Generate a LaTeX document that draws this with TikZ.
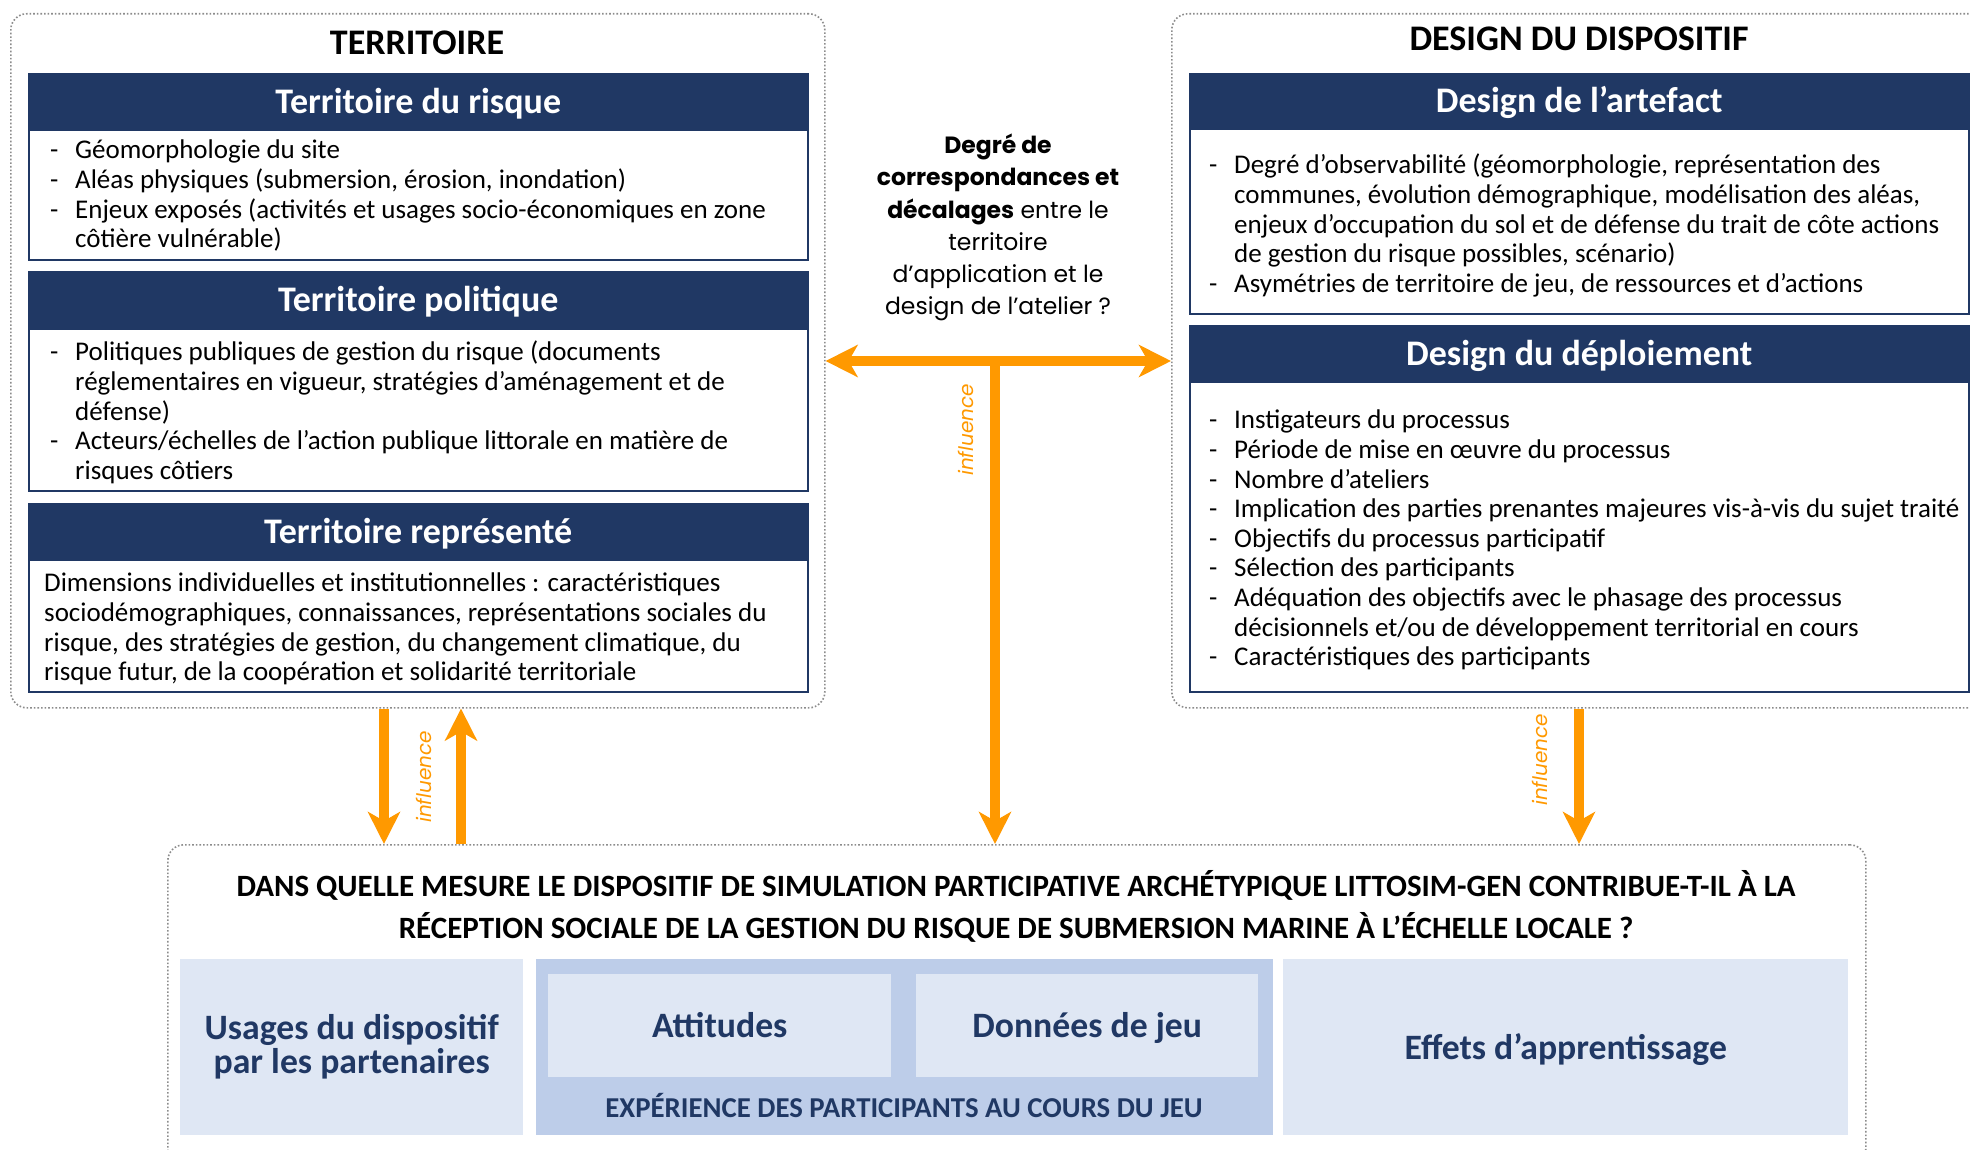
\documentclass[tikz,border=0pt]{standalone}
\usepackage{fontspec}
\setmainfont{Carlito}
\newfontfamily\gothic{Poppins}
\usetikzlibrary{arrows.meta,calc}
\definecolor{navy}{HTML}{203864}
\definecolor{lightb}{HTML}{DFE7F4}
\definecolor{midb}{HTML}{BDCDE9}
\definecolor{orng}{HTML}{FF9900}
\definecolor{dotgray}{HTML}{8C8C8C}
\newcommand\lidash{\makebox[25pt][l]{-}}
\newcommand\liind{\hspace*{25pt}}
\tikzset{
  outerbox/.style={draw=dotgray, dotted, line width=1.6pt, rounded corners=16pt, inner sep=0pt, anchor=north west},
  headbox/.style={draw=navy, fill=navy, line width=1.5pt, inner sep=0pt, anchor=north west, text=white,
    font=\fontsize{36}{40}\selectfont\bfseries, text height=25pt, text depth=2pt},
  bodybox/.style={draw=navy, fill=white, line width=2pt, inner sep=0pt, anchor=north west},
  listtext/.style={anchor=north west, inner sep=0pt, align=left, font=\fontsize{27}{29.6}\selectfont},
  titletext/.style={inner sep=0pt, font=\fontsize{36}{40}\selectfont\bfseries, text height=24pt, text depth=7pt},
  midtext/.style={anchor=north, inner sep=0pt, align=center, font=\gothic\fontsize{23.5}{32.2}\selectfont},
  questext/.style={anchor=north, inner sep=0pt, align=center, font=\fontsize{31}{42}\selectfont\bfseries},
  lightbox/.style={fill=lightb, draw=none, inner sep=0pt, anchor=north west},
  midbox/.style={fill=midb, draw=none, inner sep=0pt, anchor=north west},
  boxlabel/.style={inner sep=0pt, text=navy, align=center, font=\fontsize{35.7}{34}\selectfont\bfseries},
  explabel/.style={inner sep=0pt, text=navy, font=\fontsize{28.8}{32}\selectfont\bfseries, text height=20pt, text depth=6pt},
  oarrow/.style={draw=orng, line width=10pt},
  otip/.tip={Stealth[length=32pt, width=32pt, inset=9pt]},
  inflabel/.style={inner sep=0pt, text=orng, font=\gothic\itshape\fontsize{20}{24}\selectfont, rotate=90}
}
\begin{document}
\begin{tikzpicture}[x=1pt,y=-1pt]
\useasboundingbox (0,0) rectangle (1970,1150);
\fill[white] (0,0) rectangle (1970,1150);

% outer dotted frames
\node[outerbox, minimum width=814pt, minimum height=694pt] (terr) at (10,13) {};
\node[outerbox, minimum width=820pt, minimum height=694pt] (design) at (1171,13) {};
\node[outerbox, minimum width=1698pt, minimum height=320pt] (bot) at (167,844) {};

% titles
\node[titletext] (terrT) at (417,46) {TERRITOIRE};
\node[titletext] (desT) at (1579,42) {DESIGN DU DISPOSITIF};

% Territoire du risque
\node[bodybox, minimum width=779pt, minimum height=130pt] (b1) at (28,129) {};
\node[headbox, minimum width=779pt, minimum height=56pt] (h1) at (28,73) {Territoire du risque};
\node[listtext] (l1) at (50,138) {\strut\lidash Géomorphologie du site\\
\lidash Aléas physiques (submersion, érosion, inondation)\\
\lidash Enjeux exposés (activités et usages socio-économiques en zone\\
\liind côtière vulnérable)};

% Territoire politique
\node[bodybox, minimum width=779pt, minimum height=162pt] (b2) at (28,328) {};
\node[headbox, minimum width=779pt, minimum height=57pt] (h2) at (28,271) {Territoire politique};
\node[listtext] (l2) at (50,340) {\strut\lidash Politiques publiques de gestion du risque (documents\\
\liind réglementaires en vigueur, stratégies d’aménagement et de\\
\liind défense)\\
\lidash Acteurs/échelles de l’action publique littorale en matière de\\
\liind risques côtiers};

% Territoire représenté
\node[bodybox, minimum width=779pt, minimum height=132pt] (b3) at (28,559) {};
\node[headbox, minimum width=779pt, minimum height=56pt] (h3) at (28,503) {Territoire représenté};
\node[listtext] (l3) at (44,571) {\strut Dimensions individuelles et institutionnelles : caractéristiques\\
sociodémographiques, connaissances, représentations sociales du\\
risque, des stratégies de gestion, du changement climatique, du\\
risque futur, de la coopération et solidarité territoriale};

% Design de l'artefact
\node[bodybox, minimum width=779pt, minimum height=185pt] (b4) at (1189,128) {};
\node[headbox, minimum width=779pt, minimum height=55pt] (h4) at (1189,73) {Design de l’artefact};
\node[listtext] (l4) at (1209,153) {\strut\lidash Degré d’observabilité (géomorphologie, représentation des\\
\liind communes, évolution démographique, modélisation des aléas,\\
\liind enjeux d’occupation du sol et de défense du trait de côte actions\\
\liind de gestion du risque possibles, scénario)\\
\lidash Asymétries de territoire de jeu, de ressources et d’actions};

% Design du deploiement
\node[bodybox, minimum width=779pt, minimum height=310pt] (b5) at (1189,381) {};
\node[headbox, minimum width=779pt, minimum height=56pt] (h5) at (1189,325) {Design du déploiement};
\node[listtext] (l5) at (1209,408) {\strut\lidash Instigateurs du processus\\
\lidash Période de mise en œuvre du processus\\
\lidash Nombre d’ateliers\\
\lidash Implication des parties prenantes majeures vis-à-vis du sujet traité\\
\lidash Objectifs du processus participatif\\
\lidash Sélection des participants\\
\lidash Adéquation des objectifs avec le phasage des processus\\
\liind décisionnels et/ou de développement territorial en cours\\
\lidash Caractéristiques des participants};

% central question text
\node[midtext] (mid) at (998,131) {\strut\textbf{Degré de}\\
\textbf{correspondances et}\\
\textbf{décalages} entre le\\
territoire\\
d’application et le\\
design de l’atelier ?};

% bottom box
\node[questext] (q) at (1016,867) {\strut DANS QUELLE MESURE LE DISPOSITIF DE SIMULATION PARTICIPATIVE ARCHÉTYPIQUE LITTOSIM-GEN CONTRIBUE-T-IL À LA\\
RÉCEPTION SOCIALE DE LA GESTION DU RISQUE DE SUBMERSION MARINE À L’ÉCHELLE LOCALE ?};

\node[lightbox, minimum width=343pt, minimum height=176pt] (usages) at (180,959) {};
\node[midbox, minimum width=737pt, minimum height=176pt] (exp) at (536,959) {};
\node[lightbox, minimum width=343pt, minimum height=103pt] (att) at (548,974) {};
\node[lightbox, minimum width=342pt, minimum height=103pt] (don) at (916,974) {};
\node[lightbox, minimum width=565pt, minimum height=176pt] (eff) at (1283,959) {};

\node[boxlabel] (usagesL) at (usages.center) {Usages du dispositif\\par les partenaires};
\node[boxlabel, text height=24pt, text depth=7pt] (attL) at ([yshift=-3pt]att.center) {Attitudes};
\node[boxlabel, text height=24pt, text depth=7pt] (donL) at ([yshift=-3pt]don.center) {Données de jeu};
\node[boxlabel, text height=24pt, text depth=7pt] (effL) at ([yshift=-4pt]eff.center) {Effets d’apprentissage};
\node[explabel] (expL) at (904,1110) {EXPÉRIENCE DES PARTICIPANTS AU COURS DU JEU};

% arrows
\coordinate (tj) at (995,361);
\coordinate (ld) at (384,0);
\coordinate (lu) at (461,0);
\coordinate (rd) at (1579,0);
\draw[oarrow, {otip}-{otip}] (terr.east |- tj) -- (design.west |- tj);
\draw[oarrow, -{otip}] (tj) -- (tj |- bot.north);
\draw[oarrow, -{otip}] (ld |- terr.south) -- (ld |- bot.north);
\draw[oarrow, -{otip}] (lu |- bot.north) -- (lu |- terr.south);
\draw[oarrow, -{otip}] (rd |- design.south) -- (rd |- bot.north);

\node[inflabel] (inf1) at (966,430) {influence};
\node[inflabel] (inf2) at (424,777) {influence};
\node[inflabel] (inf3) at (1540,760) {influence};
\end{tikzpicture}
\end{document}
